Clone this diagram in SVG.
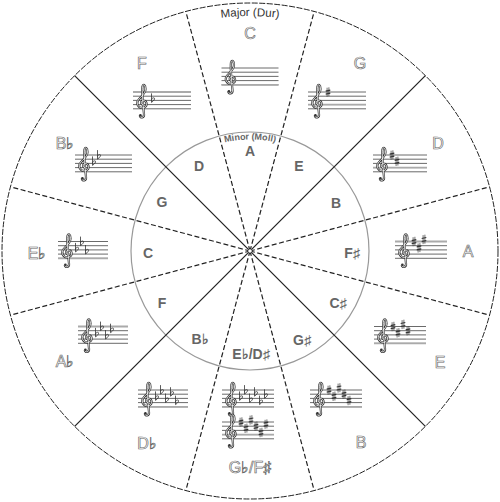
<svg xmlns="http://www.w3.org/2000/svg" xmlns:xlink="http://www.w3.org/1999/xlink" width="500" height="502" viewBox="0 0 500 502">
<style>
.maj{font-family:"Liberation Sans",Arial,sans-serif;font-size:16px;fill:#fff;stroke:#666;stroke-width:0.65;text-anchor:middle}
.min{font-family:"Liberation Sans",Arial,sans-serif;font-size:14px;font-weight:bold;fill:#666;text-anchor:middle}
.cap{font-family:"Liberation Sans",Arial,sans-serif;text-anchor:middle}
.sl{stroke:#444;stroke-width:0.8;fill:none}
.sg{stroke:#aaa;stroke-width:1.8;fill:none}
.rs{stroke:#222;stroke-width:1.2;fill:none}
.rd{stroke:#222;stroke-width:1.2;fill:none;stroke-dasharray:5 2.5}
</style>
<defs>
<path id="clefp" d="M1,12.6 C-1.5,12.6 -1.5,8.6 1.5,8.6 C5,8.6 6,14 2,15.6 C-2.5,17 -5.5,13 -4.5,9.5 C-3.5,6 3.5,2.5 3.5,-3 C3.5,-7.5 1,-8.5 0.5,-5.5 C0,-2 0.5,8 2,22 C2.5,26 -2,26.5 -2.2,23.5"/>
<g id="clef"><use xlink:href="#clefp" stroke="#333" stroke-width="2.2" fill="none"/><use xlink:href="#clefp" stroke="#fff" stroke-width="0.8" fill="none"/><circle cx="-1.6" cy="23.3" r="1.3" fill="#333"/></g>
<g id="sh" stroke="#333" fill="none"><path stroke-width="0.7" d="M-0.9,-4.3V4.7M0.9,-4.7V4.3"/><path stroke-width="1.2" d="M-2.3,-0.9L2.3,-1.9M-2.3,2.1L2.3,1.1"/></g>
<g id="fl" stroke="#333" fill="none" stroke-width="0.8"><path d="M-1.5,-7V2C1.5,0 2.6,-2.6 0.5,-2.6C-0.5,-2.6 -1.5,-1.6 -1.5,-0.6"/></g>
<path id="arcMaj" d="M15,251 A235,235 0 0 1 485,251"/>
<path id="arcMin" d="M138.5,251 A111.5,111.5 0 0 1 361.5,251"/>
</defs>
<rect width="500" height="502" fill="#fff"/>
<g id="circles">
<circle cx="250" cy="251" r="248" fill="none" stroke="#222" stroke-width="1" stroke-dasharray="6 1.5"/>
<circle cx="250" cy="251" r="119" fill="none" stroke="#999" stroke-width="1.2"/>
</g>
<g id="connectors">
<line class="rd" x1="250" y1="251" x2="314.19" y2="11.45"/>
<line class="rd" x1="250" y1="251" x2="185.81" y2="490.55"/>
<line class="rs" x1="425.36" y1="75.64" x2="74.64" y2="426.36"/>
<line class="rd" x1="250" y1="251" x2="489.55" y2="186.81"/>
<line class="rd" x1="250" y1="251" x2="10.45" y2="315.19"/>
<line class="rd" x1="250" y1="251" x2="489.55" y2="315.19"/>
<line class="rd" x1="250" y1="251" x2="10.45" y2="186.81"/>
<line class="rs" x1="425.36" y1="426.36" x2="74.64" y2="75.64"/>
<line class="rd" x1="250" y1="251" x2="314.19" y2="490.55"/>
<line class="rd" x1="250" y1="251" x2="185.81" y2="11.45"/>
<circle cx="250" cy="251" r="1.8" fill="#fff"/>
</g>
<g id="titles">
<text class="cap" font-size="11.5" fill="#333"><textPath xlink:href="#arcMaj" startOffset="50%">Major (Dur)</textPath></text>
<text class="cap" font-size="9" font-weight="bold" fill="#666"><textPath xlink:href="#arcMin" startOffset="50%">Minor (Moll)</textPath></text>
</g>
<g id="key-C">
<text class="maj" x="250" y="39">C</text>
<g transform="translate(221.5,68)"><path class="sl" d="M0 0H57M0 4.2H57M0 8.4H57M0 12.6H57M0 16.8H57"/><path class="sg" d="M0 16.8H57"/><use xlink:href="#clef" x="9"/></g>
<text class="min" x="250" y="156">A</text>
</g>
<g id="key-G">
<text class="maj" x="360" y="69">G</text>
<g transform="translate(308,92)"><path class="sl" d="M0 0H58M0 4.2H58M0 8.4H58M0 12.6H58M0 16.8H58"/><path class="sg" d="M0 12.6H58"/><use xlink:href="#clef" x="9"/><use xlink:href="#sh" x="20" y="0"/></g>
<text class="min" x="299" y="171">E</text>
</g>
<g id="key-D">
<text class="maj" x="438" y="149">D</text>
<g transform="translate(373,155)"><path class="sl" d="M0 0H54M0 4.2H54M0 8.4H54M0 12.6H54M0 16.8H54"/><path class="sg" d="M0 12.6H54"/><use xlink:href="#clef" x="9"/><use xlink:href="#sh" x="19" y="0"/><use xlink:href="#sh" x="24" y="6.3"/></g>
<text class="min" x="336" y="208">B</text>
</g>
<g id="key-A">
<text class="maj" x="468" y="257">A</text>
<g transform="translate(395,241.5)"><path class="sl" d="M0 0H52M0 4.2H52M0 8.4H52M0 12.6H52M0 16.8H52"/><path class="sg" d="M0 0H52"/><use xlink:href="#clef" x="9"/><use xlink:href="#sh" x="19" y="0"/><use xlink:href="#sh" x="24" y="6.3"/><use xlink:href="#sh" x="29" y="-2.1"/></g>
<text class="min" x="352" y="258">F♯</text>
</g>
<g id="key-E">
<text class="maj" x="440" y="368">E</text>
<g transform="translate(374,326.5)"><path class="sl" d="M0 0H52M0 4.2H52M0 8.4H52M0 12.6H52M0 16.8H52"/><path class="sg" d="M0 16.8H52"/><use xlink:href="#clef" x="9"/><use xlink:href="#sh" x="19" y="0"/><use xlink:href="#sh" x="24" y="6.3"/><use xlink:href="#sh" x="29" y="-2.1"/><use xlink:href="#sh" x="34" y="4.2"/></g>
<text class="min" x="338" y="308">C♯</text>
</g>
<g id="key-B">
<text class="maj" x="361" y="448">B</text>
<g transform="translate(310,390)"><path class="sl" d="M0 0H52M0 4.2H52M0 8.4H52M0 12.6H52M0 16.8H52"/><path class="sg" d="M0 16.8H52"/><use xlink:href="#clef" x="9"/><use xlink:href="#sh" x="19" y="0"/><use xlink:href="#sh" x="24" y="6.3"/><use xlink:href="#sh" x="29" y="-2.1"/><use xlink:href="#sh" x="34" y="4.2"/><use xlink:href="#sh" x="39" y="10.5"/></g>
<text class="min" x="302" y="345">G♯</text>
</g>
<g id="key-Gb-Fs">
<text class="maj" x="250" y="473">G♭/F♯</text>
<g transform="translate(222,390)"><path class="sl" d="M0 0H52M0 4.2H52M0 8.4H52M0 12.6H52M0 16.8H52"/><path class="sg" d="M0 16.8H52"/><use xlink:href="#clef" x="9"/><use xlink:href="#fl" x="19" y="8.4"/><use xlink:href="#fl" x="24" y="2.1"/><use xlink:href="#fl" x="29" y="10.5"/><use xlink:href="#fl" x="34" y="4.2"/><use xlink:href="#fl" x="39" y="12.6"/><use xlink:href="#fl" x="44" y="6.3"/></g>
<g transform="translate(222,422)"><path class="sl" d="M0 0H52M0 4.2H52M0 8.4H52M0 12.6H52M0 16.8H52"/><path class="sg" d="M0 12.6H52"/><use xlink:href="#clef" x="9"/><use xlink:href="#sh" x="19" y="0"/><use xlink:href="#sh" x="24" y="6.3"/><use xlink:href="#sh" x="29" y="-2.1"/><use xlink:href="#sh" x="34" y="4.2"/><use xlink:href="#sh" x="39" y="10.5"/><use xlink:href="#sh" x="44" y="2.1"/></g>
<text class="min" x="251" y="359">E♭/D♯</text>
</g>
<g id="key-Db">
<text class="maj" x="147" y="449">D♭</text>
<g transform="translate(138,390)"><path class="sl" d="M0 0H50M0 4.2H50M0 8.4H50M0 12.6H50M0 16.8H50"/><path class="sg" d="M0 16.8H50"/><use xlink:href="#clef" x="9"/><use xlink:href="#fl" x="19" y="8.4"/><use xlink:href="#fl" x="24" y="2.1"/><use xlink:href="#fl" x="29" y="10.5"/><use xlink:href="#fl" x="34" y="4.2"/><use xlink:href="#fl" x="39" y="12.6"/></g>
<text class="min" x="200" y="344">B♭</text>
</g>
<g id="key-Ab">
<text class="maj" x="65" y="367">A♭</text>
<g transform="translate(78,326.5)"><path class="sl" d="M0 0H50M0 4.2H50M0 8.4H50M0 12.6H50M0 16.8H50"/><path class="sg" d="M0 0H50"/><use xlink:href="#clef" x="9"/><use xlink:href="#fl" x="19" y="8.4"/><use xlink:href="#fl" x="24" y="2.1"/><use xlink:href="#fl" x="29" y="10.5"/><use xlink:href="#fl" x="34" y="4.2"/></g>
<text class="min" x="162" y="308">F</text>
</g>
<g id="key-Eb">
<text class="maj" x="37" y="259">E♭</text>
<g transform="translate(58,241.5)"><path class="sl" d="M0 0H50M0 4.2H50M0 8.4H50M0 12.6H50M0 16.8H50"/><path class="sg" d="M0 16.8H50"/><use xlink:href="#clef" x="9"/><use xlink:href="#fl" x="19" y="8.4"/><use xlink:href="#fl" x="24" y="2.1"/><use xlink:href="#fl" x="29" y="10.5"/></g>
<text class="min" x="148" y="258">C</text>
</g>
<g id="key-Bb">
<text class="maj" x="65" y="149">B♭</text>
<g transform="translate(75,155)"><path class="sl" d="M0 0H57M0 4.2H57M0 8.4H57M0 12.6H57M0 16.8H57"/><use xlink:href="#clef" x="9"/><use xlink:href="#fl" x="19" y="8.4"/><use xlink:href="#fl" x="24" y="2.1"/></g>
<text class="min" x="162" y="207">G</text>
</g>
<g id="key-F">
<text class="maj" x="142" y="69">F</text>
<g transform="translate(133,92)"><path class="sl" d="M0 0H58M0 4.2H58M0 8.4H58M0 12.6H58M0 16.8H58"/><path class="sg" d="M0 0H58"/><use xlink:href="#clef" x="9"/><use xlink:href="#fl" x="20" y="8.4"/></g>
<text class="min" x="199" y="171">D</text>
</g>
</svg>
